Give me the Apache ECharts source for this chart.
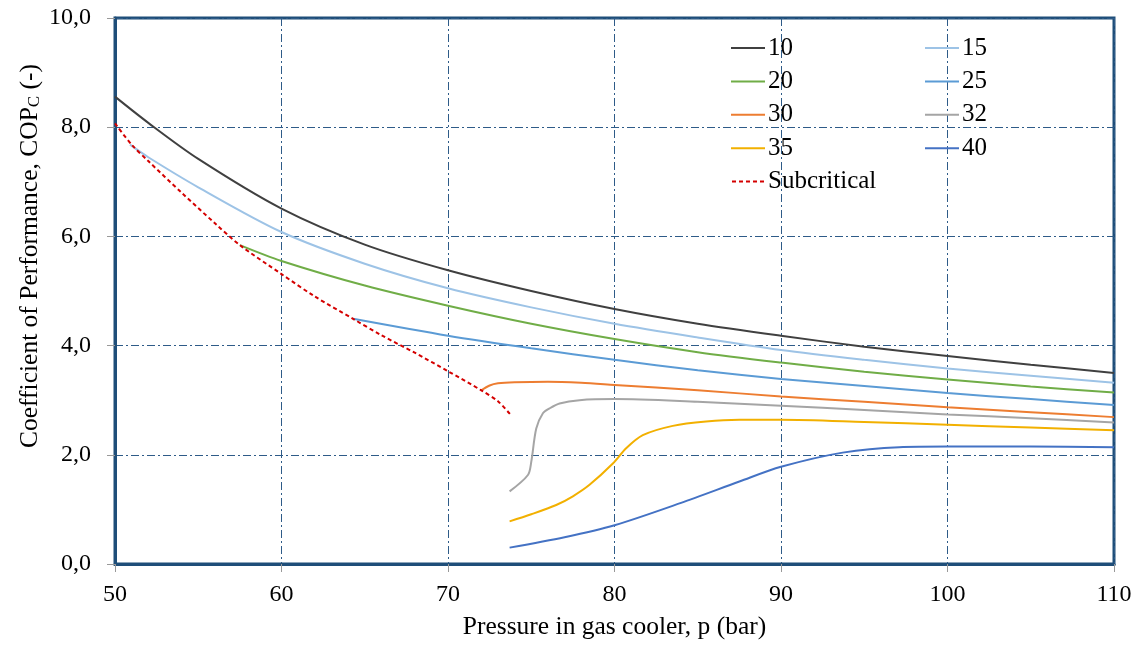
<!DOCTYPE html>
<html>
<head>
<meta charset="utf-8">
<script src="https://cdn.jsdelivr.net/npm/echarts@6/dist/echarts.min.js"></script>
<style>
  html, body { margin: 0; padding: 0; background: #fff; }
  #chart { width: 1139px; height: 645px; }
</style>
</head>
<body>
<div id="chart"></div>
<script>
// Gas cooler pressure (bar) and cooling COP for each gas cooler outlet temperature
const p10 = [50, 52, 55, 60, 65, 70, 75, 80, 85, 90, 95, 100, 105, 110];
const cop10 = [8.56, 8.08, 7.42, 6.51, 5.85, 5.38, 5.00, 4.67, 4.40, 4.18, 3.98, 3.81, 3.65, 3.50];

const p15 = [50.9, 52, 55, 60, 65, 70, 75, 80, 85, 90, 95, 100, 105, 110];
const cop15 = [7.68, 7.45, 6.90, 6.08, 5.50, 5.05, 4.70, 4.40, 4.15, 3.92, 3.74, 3.58, 3.45, 3.32];

const p20 = [57.5, 60, 65, 70, 75, 80, 85, 90, 95, 100, 105, 110];
const cop20 = [5.84, 5.55, 5.10, 4.73, 4.40, 4.12, 3.88, 3.69, 3.52, 3.38, 3.25, 3.14];

const p25 = [64.3, 70, 75, 80, 85, 90, 95, 100, 105, 110];
const cop25 = [4.49, 4.18, 3.95, 3.74, 3.55, 3.39, 3.26, 3.13, 3.02, 2.91];

const p30 = [72.0, 72.5, 73.0, 74, 76, 78, 80, 85, 90, 95, 100, 105, 110];
const cop30 = [3.18, 3.27, 3.31, 3.33, 3.34, 3.32, 3.28, 3.18, 3.07, 2.97, 2.87, 2.78, 2.69];

const p32 = [73.7, 74.8, 75.0, 75.3, 75.7, 76.1, 76.7, 77.9, 80, 85, 90, 95, 100, 105, 110];
const cop32 = [1.33, 1.63, 1.87, 2.48, 2.76, 2.85, 2.94, 3.00, 3.02, 2.97, 2.90, 2.82, 2.74, 2.67, 2.59];

const p35 = [73.7, 75, 76.5, 77.5, 78.5, 79.9, 80.7, 81.7, 83.5, 85.5, 87.5, 90, 95, 100, 105, 110];
const cop35 = [0.78, 0.91, 1.08, 1.24, 1.45, 1.84, 2.12, 2.36, 2.53, 2.61, 2.64, 2.64, 2.60, 2.55, 2.50, 2.45];

const p40 = [73.7, 77, 80, 84, 87.5, 90, 93.7, 97.1, 100, 105, 110];
const cop40 = [0.30, 0.49, 0.71, 1.12, 1.51, 1.78, 2.04, 2.14, 2.15, 2.15, 2.14];

const pSub = [50, 51, 52, 54, 56, 57.5, 60, 62, 64.3, 66, 68, 70, 72, 73, 73.8];
const copSub = [8.07, 7.68, 7.38, 6.80, 6.24, 5.84, 5.31, 4.90, 4.49, 4.19, 3.87, 3.53, 3.18, 2.98, 2.72];

const xTicks = [50, 60, 70, 80, 90, 100, 110];
const yTicks = [0, 2, 4, 6, 8, 10];

const pairs = (xs, ys) => xs.map((x, i) => [x, ys[i]]);
const serif = 'Liberation Serif';

// Legend keys: a plain stroke, and a dashed one for the subcritical curve
const solidKey = 'path://M0,0H34V2H0Z';
const dashKey = 'path://M0,0H4V2H0Z M7,0H11V2H7Z M14,0H18V2H14Z M21,0H25V2H21Z M28,0H32V2H28Z';

function curve(name, xs, ys, color, dashed) {
  return {
    name: name,
    type: 'line',
    data: pairs(xs, ys),
    symbol: 'none',
    smooth: 0.3,
    lineStyle: { color: color, width: 2, type: dashed ? [4, 3] : 'solid' },
    itemStyle: { color: color },
    z: dashed ? 3 : 2
  };
}

function legendColumn(left, names) {
  return {
    left: left, top: 35,
    orient: 'vertical',
    padding: 0,
    itemWidth: 34,
    itemHeight: 2,
    itemGap: 7.4,
    selectedMode: false,
    data: names.map(n => ({ name: n, icon: n === 'Subcritical' ? dashKey : solidKey })),
    textStyle: { fontFamily: serif, fontSize: 25, color: '#000', lineHeight: 26, padding: [0, 0, 0, -2] }
  };
}

const gridColor = '#2E5B88';

const chart = echarts.init(document.getElementById('chart'), null, { renderer: 'canvas' });
chart.setOption({
  animation: false,
  backgroundColor: '#fff',
  grid: {
    left: 115, top: 18, right: 25, bottom: 79,
    show: true, borderColor: '#1F4E79', borderWidth: 3, backgroundColor: 'transparent'
  },
  legend: [
    legendColumn(731, ['10', '20', '30', '35', 'Subcritical']),
    legendColumn(925, ['15', '25', '32', '40'])
  ],
  graphic: [{
    type: 'text',
    x: 27, y: 256,
    rotation: Math.PI / 2,
    style: {
      text: '{a|Coefficient of Performance, COP}{s|C}{a| (-)}',
      align: 'center',
      verticalAlign: 'middle',
      fill: '#000',
      rich: {
        a: { fontFamily: serif, fontSize: 25.5, fill: '#000', lineHeight: 32, verticalAlign: 'bottom' },
        s: { fontFamily: serif, fontSize: 17, fill: '#000', lineHeight: 14, verticalAlign: 'bottom' }
      }
    }
  }],
  xAxis: {
    type: 'value',
    min: 50, max: 110, interval: 10,
    name: 'Pressure in gas cooler, p (bar)',
    nameLocation: 'middle',
    nameGap: 50,
    nameTextStyle: { fontFamily: serif, fontSize: 25.5, color: '#000' },
    axisLine: { show: true, lineStyle: { color: '#1F4E79', width: 3 } },
    axisTick: { show: true, length: 8, lineStyle: { color: '#999', width: 1 } },
    axisLabel: { fontFamily: serif, fontSize: 24, color: '#000', margin: 19,
      formatter: v => xTicks.includes(v) ? String(v) : '' },
    splitLine: { show: true, lineStyle: { color: gridColor, width: 1, type: [8, 3, 2, 3] } }
  },
  yAxis: {
    type: 'value',
    min: 0, max: 10, interval: 2,
    axisLine: { show: true, lineStyle: { color: '#1F4E79', width: 3 } },
    axisTick: { show: true, length: 8, lineStyle: { color: '#999', width: 1 } },
    axisLabel: { fontFamily: serif, fontSize: 24, color: '#000', margin: 24,
      formatter: v => yTicks.includes(v) ? v.toFixed(1).replace('.', ',') : '' },
    splitLine: { show: true, lineStyle: { color: gridColor, width: 1, type: [8, 3, 2, 3] } }
  },
  series: [
    curve('10', p10, cop10, '#404040'),
    curve('15', p15, cop15, '#9DC3E6'),
    curve('20', p20, cop20, '#70AD47'),
    curve('25', p25, cop25, '#5B9BD5'),
    curve('30', p30, cop30, '#ED7D31'),
    curve('32', p32, cop32, '#A5A5A5'),
    curve('35', p35, cop35, '#F2B000'),
    curve('40', p40, cop40, '#4472C4'),
    curve('Subcritical', pSub, copSub, '#D40000', true)
  ]
});
</script>
</body>
</html>
